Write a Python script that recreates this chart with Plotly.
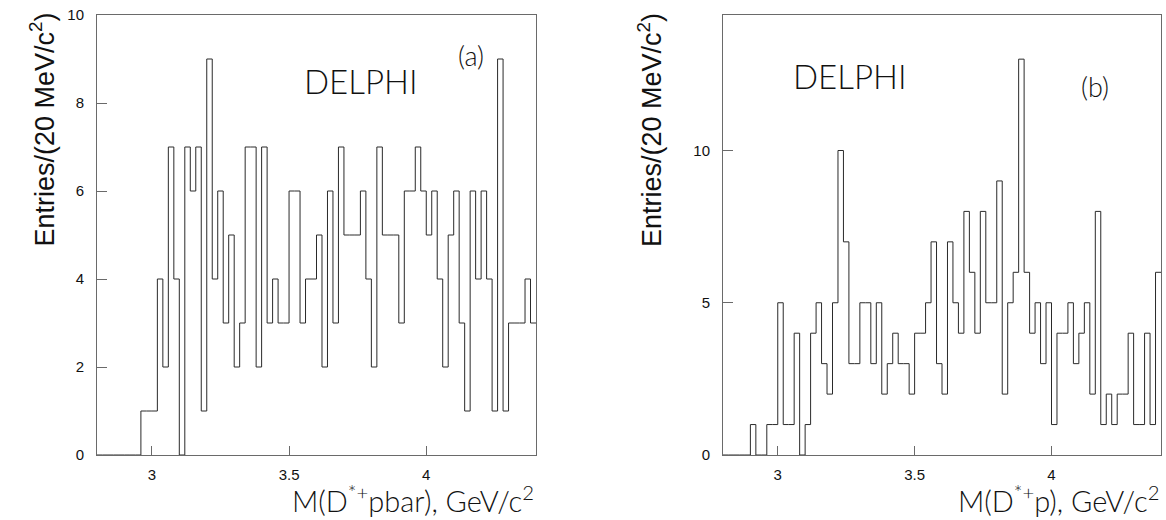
import plotly.graph_objects as go

# ---- data ----
bin_start = 2.80   # GeV/c^2
bin_width = 0.02   # 20 MeV/c^2
n_bins = 80

counts_a = [0, 0, 0, 0, 0, 0, 0, 0, 1, 1,
            1, 4, 2, 7, 4, 0, 7, 6, 7, 1,
            9, 4, 6, 3, 5, 2, 3, 7, 7, 2,
            7, 3, 4, 3, 3, 6, 6, 3, 4, 4,
            5, 2, 6, 3, 7, 5, 5, 5, 6, 4,
            2, 7, 5, 5, 5, 3, 6, 6, 7, 6,
            5, 6, 4, 2, 5, 6, 3, 1, 6, 4,
            6, 4, 1, 9, 1, 3, 3, 3, 4, 3]

counts_b = [0, 0, 0, 0, 0, 1, 0, 0, 1, 1,
            5, 1, 1, 4, 0, 1, 4, 5, 3, 2,
            5, 10, 7, 3, 3, 5, 5, 3, 5, 2,
            3, 4, 3, 3, 2, 4, 4, 5, 7, 3,
            2, 7, 5, 4, 8, 6, 4, 8, 5, 5,
            9, 2, 5, 6, 13, 6, 4, 5, 3, 5,
            1, 4, 4, 5, 3, 4, 5, 2, 8, 1,
            2, 1, 2, 2, 4, 1, 1, 4, 1, 6]

x_ticks = [3, 3.5, 4]
x_tick_text = ["3", "3.5", "4"]
y_ticks_a = [0, 2, 4, 6, 8, 10]
y_ticks_b = [0, 5, 10]
y_max_a = 10
y_max_b = 14.45

x_title_a = "M(D<sup>*+</sup>pbar), GeV/c<sup>2</sup>"
x_title_b = "M(D<sup>*+</sup>p), GeV/c<sup>2</sup>"
y_title = "Entries/(20 MeV/c<sup>2</sup>)"

edges = [round(bin_start + i * bin_width, 4) for i in range(n_bins + 1)]
x_lo, x_hi = edges[0], edges[-1]

W, H = 1166, 520
ML, MR, MT, MB = 97, 5, 15, 65
PW = W - ML - MR
PH = H - MT - MB


def px(xp):
    return (xp - ML) / PW


def py(yp):
    return (H - MB - yp) / PH


fig = go.Figure()
for counts, xa, ya in [(counts_a, "x", "y"), (counts_b, "x2", "y2")]:
    fig.add_trace(go.Scatter(
        x=edges, y=counts + [counts[-1]],
        mode="lines", line=dict(shape="hv", color="#2a2a2a", width=1),
        xaxis=xa, yaxis=ya, showlegend=False, hoverinfo="skip"))

tick_font = dict(family="Liberation Sans, Arial, sans-serif", size=15, color="#111")
axis_common = dict(
    showgrid=False, zeroline=False, showline=True, mirror=True,
    linecolor="#6a6a6a", linewidth=1, ticks="inside", layer="above traces",
    tickcolor="#6a6a6a", tickwidth=1, tickfont=tick_font,
)

fig.update_layout(
    width=W, height=H,
    margin=dict(l=ML, r=MR, t=MT, b=MB),
    paper_bgcolor="white", plot_bgcolor="white",
    xaxis=dict(domain=[0, px(536)], range=[x_lo, x_hi], tickvals=x_ticks,
               ticktext=x_tick_text, anchor="y", ticklen=9,
               ticklabelstandoff=6, **axis_common),
    yaxis=dict(domain=[0, 1], range=[0, y_max_a], tickvals=y_ticks_a,
               anchor="x", ticklen=10, ticklabelstandoff=9, **axis_common),
    xaxis2=dict(domain=[px(723), 1], range=[x_lo, x_hi], tickvals=x_ticks,
                ticktext=x_tick_text, anchor="y2", ticklen=9,
                ticklabelstandoff=6, **axis_common),
    yaxis2=dict(domain=[0, 1], range=[0, y_max_b], tickvals=y_ticks_b,
                anchor="x2", ticklen=10, ticklabelstandoff=9, **axis_common),
)

title_font = dict(family="Liberation Sans, Arial, sans-serif", size=27, color="#111")
light = dict(family="Lato, Liberation Sans, sans-serif", color="#111", weight=300)

ann = [
    dict(text=y_title, x=px(42.5), y=py(130), textangle=-90, font=title_font),
    dict(text=y_title, x=px(650), y=py(130), textangle=-90, font=title_font),
    dict(text=x_title_a, x=px(536), y=py(478), xanchor="right", yanchor="top",
         font=dict(size=29, **light)),
    dict(text=x_title_b, x=px(1161), y=py(478), xanchor="right", yanchor="top",
         font=dict(size=29, **light)),
    dict(text="DELPHI", x=px(361), y=py(81), font=dict(size=33, **light)),
    dict(text="DELPHI", x=px(850), y=py(76), font=dict(size=33, **light)),
    dict(text="(a)", x=px(471), y=py(56), font=dict(size=27, **light)),
    dict(text="(b)", x=px(1095), y=py(86), font=dict(size=27, **light)),
]
for a in ann:
    a.setdefault("xanchor", "center")
    a.setdefault("yanchor", "middle")
    a.update(xref="paper", yref="paper", showarrow=False)
fig.update_layout(annotations=ann)

fig.write_html("out.html", config={"displayModeBar": False},
               post_script="document.body.style.margin='0';")
